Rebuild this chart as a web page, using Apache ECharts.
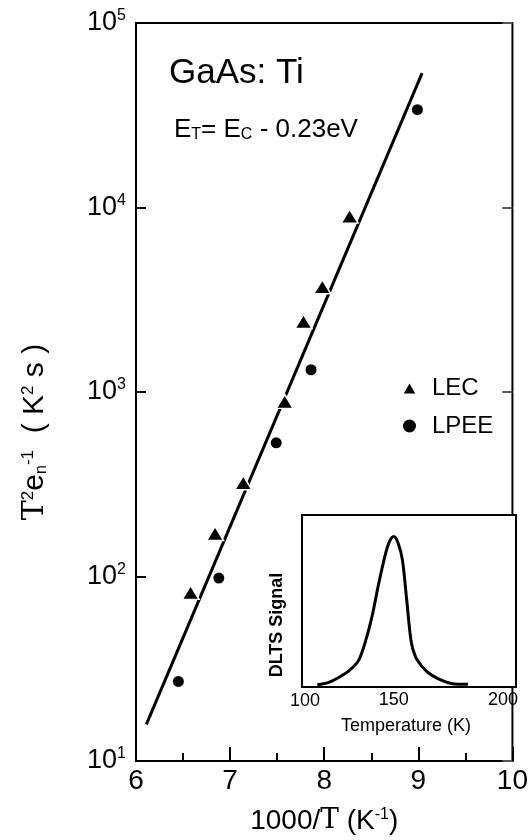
<!DOCTYPE html>
<html>
<head>
<meta charset="utf-8">
<title>GaAs:Ti emission rate</title>
<script src="https://cdn.jsdelivr.net/npm/echarts@6/dist/echarts.min.js"></script>
<style>
  html, body { margin: 0; padding: 0; background: #fff; }
  #chart { width: 531px; height: 840px; }
</style>
</head>
<body>
<div id="chart"></div>
<script>
// LEC samples (triangles): 1000/T and T^2/e_n
const lecX = [6.58, 6.84, 7.14, 7.58, 7.78, 7.98, 8.27]
const lecY = [82, 171, 322, 890, 2410, 3720, 8980]

// LPEE samples (circles)
const lpeeX = [6.45, 6.88, 7.49, 7.86, 8.99]
const lpeeY = [27, 98, 530, 1320, 33900]

// fitted Arrhenius line, end points
const fitX = [6.11, 9.04]
const fitY = [15.8, 53500]

// inset DLTS spectrum
const insetTemp = [115, 120, 125, 130, 134, 137, 140, 143, 146, 148, 150, 152, 154, 156, 158, 160, 163, 166, 170, 175, 180, 184]
const insetSignal = [0.02, 0.04, 0.09, 0.16, 0.25, 0.42, 0.65, 0.95, 1.22, 1.35, 1.40, 1.34, 1.18, 0.80, 0.42, 0.28, 0.19, 0.13, 0.08, 0.04, 0.025, 0.025]
const insetTicks = [150, 200]

const FONT = 'Liberation Sans'
const pairs = (xs, ys) => xs.map((x, i) => [x, ys[i]])

const chart = echarts.init(document.getElementById('chart'))

const option = {
  backgroundColor: '#fff',
  animation: false,
  textStyle: { fontFamily: FONT, color: '#000' },
  legend: {
    data: ['LEC', 'LPEE'],
    orient: 'vertical',
    left: 396,
    top: 371,
    itemWidth: 15,
    itemHeight: 13,
    itemGap: 14,
    textStyle: { fontSize: 24, fontFamily: FONT, color: '#000', padding: [0, 0, 0, 10] }
  },
  grid: [
    { left: 136, top: 23, width: 381, height: 740, show: true, borderColor: '#000', borderWidth: 2 },
    { left: 302, top: 515, width: 214, height: 172, show: true, borderColor: '#000', borderWidth: 2, backgroundColor: '#fff', z: 5 }
  ],
  xAxis: [
    {
      gridIndex: 0,
      type: 'value',
      min: 6,
      max: 10,
      interval: 1,
      axisLine: { lineStyle: { color: '#000', width: 2 } },
      axisTick: { inside: true, length: 14, lineStyle: { width: 2 } },
      minorTick: { show: true, splitNumber: 2, length: 8, lineStyle: { color: '#000', width: 2 } },
      splitLine: { show: false },
      axisLabel: { fontSize: 28, color: '#000', margin: 6 },
      name: '1000/{t|T} (K{s|-1})',
      nameLocation: 'middle',
      nameGap: 46,
      nameTextStyle: {
        fontSize: 28,
        color: '#000',
        rich: {
          t: { fontSize: 28, fontFamily: 'DejaVu Serif' },
          s: { fontSize: 16, verticalAlign: 'top' }
        }
      }
    },
    {
      gridIndex: 1,
      type: 'value',
      min: 108,
      max: 206,
      axisLine: { lineStyle: { color: '#000', width: 2 } },
      axisTick: { inside: true, length: 10, customValues: insetTicks, lineStyle: { width: 2 } },
      splitLine: { show: false },
      axisLabel: { fontSize: 18, color: '#000', margin: 4, customValues: insetTicks },
      name: 'Temperature (K)',
      nameLocation: 'middle',
      nameGap: 30,
      nameTextStyle: { fontSize: 18, color: '#000', padding: [0, 6, 0, 0] }
    }
  ],
  yAxis: [
    {
      gridIndex: 0,
      type: 'log',
      logBase: 10,
      min: 10,
      max: 100000,
      axisLine: { lineStyle: { color: '#000', width: 2 } },
      axisTick: { inside: true, length: 10, lineStyle: { width: 2 } },
      splitLine: { show: false },
      axisLabel: {
        margin: 10,
        formatter: v => '{b|10}{s|' + Math.round(Math.log10(v)) + '}',
        rich: {
          b: { fontSize: 27, color: '#000', lineHeight: 30 },
          s: { fontSize: 16, color: '#000', verticalAlign: 'top' }
        }
      }
    },
    {
      gridIndex: 0,
      type: 'log',
      logBase: 10,
      min: 10,
      max: 100000,
      position: 'right',
      axisLine: { show: false },
      axisTick: { inside: true, length: 10, lineStyle: { width: 2 } },
      axisLabel: { show: false },
      splitLine: { show: false }
    },
    {
      gridIndex: 1,
      type: 'value',
      min: 0,
      max: 1.6,
      axisLine: { show: false },
      axisTick: { show: false },
      axisLabel: { show: false },
      splitLine: { show: false }
    }
  ],
  graphic: [
    {
      type: 'text',
      left: 169,
      top: 56,
      style: { text: 'GaAs: Ti', fontSize: 35, fontFamily: FONT, fill: '#000' }
    },
    {
      type: 'text',
      left: 174,
      top: 117,
      style: {
        text: 'E{s|T}= E{s|C} - 0.23eV',
        fontSize: 26,
        fontFamily: FONT,
        fill: '#000',
        rich: { s: { fontSize: 16, verticalAlign: 'bottom', fill: '#000', fontFamily: FONT } }
      }
    },
    {
      type: 'text',
      x: 35,
      y: 432,
      rotation: Math.PI / 2,
      style: {
        text: '{t|T}{p|2}e{n|n}{p|-1}  ( K{p|2} s )',
        fontSize: 30,
        fontFamily: FONT,
        fill: '#000',
        align: 'center',
        verticalAlign: 'middle',
        rich: {
          t: { fontSize: 30, fontFamily: 'DejaVu Serif', fill: '#000' },
          p: { fontSize: 17, verticalAlign: 'top', fill: '#000', fontFamily: FONT },
          n: { fontSize: 16, verticalAlign: 'bottom', fill: '#000', fontFamily: FONT }
        }
      }
    },
    {
      type: 'text',
      x: 277,
      y: 625,
      rotation: Math.PI / 2,
      z: 10,
      style: { text: 'DLTS Signal', fontSize: 18, fontWeight: 'bold', fontFamily: FONT, fill: '#000', align: 'center', verticalAlign: 'middle' }
    },
    {
      type: 'text',
      x: 305,
      y: 692,
      z: 10,
      style: { text: '100', fontSize: 18, fontFamily: FONT, fill: '#000', align: 'center', verticalAlign: 'top' }
    }
  ],
  series: [
    {
      name: 'fit',
      type: 'line',
      xAxisIndex: 0,
      yAxisIndex: 0,
      data: pairs(fitX, fitY),
      showSymbol: false,
      lineStyle: { color: '#000', width: 3 },
      z: 2
    },
    {
      name: 'LEC',
      type: 'scatter',
      xAxisIndex: 0,
      yAxisIndex: 0,
      data: pairs(lecX, lecY),
      symbol: 'triangle',
      symbolSize: [17, 14],
      itemStyle: { color: '#000', opacity: 1, borderColor: '#fff', borderWidth: 1.5 },
      z: 3
    },
    {
      name: 'LPEE',
      type: 'scatter',
      xAxisIndex: 0,
      yAxisIndex: 0,
      data: pairs(lpeeX, lpeeY),
      symbol: 'circle',
      symbolSize: 11,
      itemStyle: { color: '#000', opacity: 1 },
      z: 3
    },
    {
      name: 'DLTS',
      type: 'line',
      xAxisIndex: 1,
      yAxisIndex: 2,
      data: pairs(insetTemp, insetSignal),
      showSymbol: false,
      smooth: 0.3,
      lineStyle: { color: '#000', width: 3 },
      z: 6
    }
  ]
}

chart.setOption(option)
</script>
</body>
</html>
